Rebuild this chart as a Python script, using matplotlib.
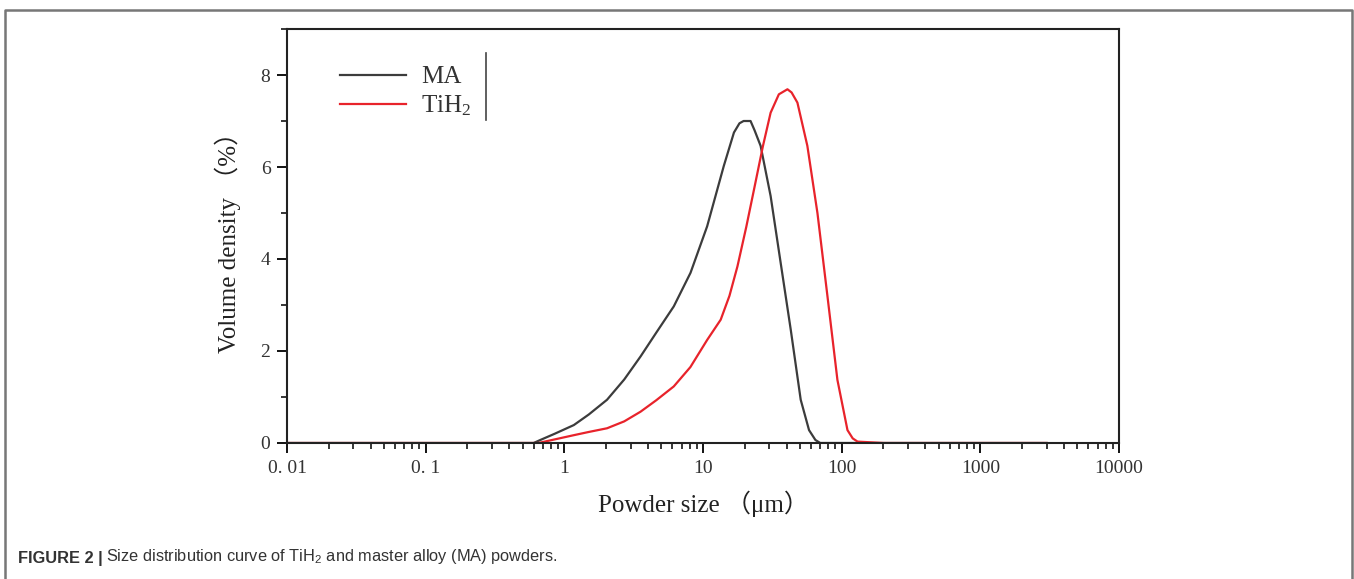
import matplotlib.pyplot as plt
from matplotlib.ticker import LogLocator, FixedLocator, MultipleLocator, FuncFormatter

# powder size (um) and volume density (%)
ma_size = [0.01, 0.1, 0.6, 0.67, 0.85, 1.17, 1.5, 2.03, 2.7, 3.54, 4.6, 6.15, 8.12, 10.7,
           14.1, 16.7, 18.3, 19.6, 22.0, 23.5, 26.0, 30.7, 36.3, 42.9, 50.6, 58.1, 64.6,
           70, 100, 1000, 3000]
ma_density = [0, 0, 0, 0.065, 0.2, 0.39, 0.62, 0.94, 1.38, 1.88, 2.4, 2.97, 3.7, 4.71,
              6.02, 6.75, 6.95, 7.0, 7.0, 6.8, 6.46, 5.37, 3.91, 2.46, 0.94, 0.28, 0.065,
              0, 0, 0, 0]

tih2_size = [0.01, 0.1, 0.65, 0.8, 1.17, 1.5, 2.03, 2.7, 3.54, 4.6, 6.15, 8.1, 10.7,
             13.4, 15.5, 17.7, 20.5, 23.3, 27.0, 30.7, 35.2, 40.6, 43.5, 47.9, 56.5, 66.8,
             78.9, 93.1, 110, 120, 130, 200, 1000, 3000]
tih2_density = [0, 0, 0, 0.06, 0.17, 0.24, 0.32, 0.47, 0.68, 0.93, 1.23, 1.65, 2.24,
                2.68, 3.2, 3.84, 4.7, 5.51, 6.45, 7.18, 7.58, 7.69, 7.62, 7.4, 6.46, 5.0,
                3.19, 1.37, 0.28, 0.1, 0.03, 0, 0, 0]

serif = ['Liberation Serif', 'Noto Sans CJK SC', 'DejaVu Sans']
cjk_serif = ['Liberation Serif', 'Noto Sans CJK SC']
sans = ['Liberation Sans', 'DejaVu Sans']

fig = plt.figure(figsize=(13.54, 5.79), dpi=100)
ax = fig.add_axes([0.212, 0.2349, 0.6145, 0.715])

ax.plot(ma_size, ma_density, color='#3c3c3c', lw=1.6, label='MA')
ax.plot(tih2_size, tih2_density, color='#e8232b', lw=1.6, label='TiH$\\mathregular{_2}$')

ax.set_xscale('log')
ax.set_xlim(0.01, 10000)
ax.set_ylim(0, 9)
ax.xaxis.set_major_locator(FixedLocator([0.01, 0.1, 1, 10, 100, 1000, 10000]))
ax.xaxis.set_minor_locator(LogLocator(base=10, subs=range(2, 10), numticks=20))
ax.xaxis.set_major_formatter(FuncFormatter(
    lambda v, p: {0.01: '0. 01', 0.1: '0. 1'}.get(round(v, 3), '%d' % round(v))))
ax.yaxis.set_major_locator(FixedLocator([0, 2, 4, 6, 8]))
ax.yaxis.set_minor_locator(MultipleLocator(1))

ax.tick_params(which='major', direction='out', length=7, width=1.3, labelsize=14, pad=5)
ax.tick_params(which='minor', direction='out', length=4, width=1.1)
for lab in ax.get_xticklabels() + ax.get_yticklabels():
    lab.set_family(serif)
    lab.set_color('#333333')
for sp in ax.spines.values():
    sp.set_linewidth(1.5)
    sp.set_color('#222222')

ax.set_xlabel('Powder size （μm）', fontsize=18, family=cjk_serif, color='#222222', labelpad=10)
ax.set_ylabel('Volume density （%）', fontsize=18, family=cjk_serif, color='#222222', labelpad=14)

leg = ax.legend(loc='upper left', bbox_to_anchor=(0.037, 0.965), frameon=False,
                prop={'family': 'Liberation Serif', 'size': 18}, handlelength=2.64,
                handletextpad=0.6, labelspacing=0.2)
for t in leg.get_texts():
    t.set_color('#333333')
ax.plot([0.239, 0.239], [0.78, 0.942], transform=ax.transAxes, color='#444444', lw=1.2)

# outer frame of the figure panel
fig.add_artist(plt.Line2D([0.0037, 0.0037, 0.9985, 0.9985], [0.0, 0.983, 0.983, 0.0],
                          transform=fig.transFigure, color='#777777', lw=1.8))

cap = fig.text(0.0133, 0.027, 'FIGURE 2 |', fontsize=11.8, weight='bold', color='#333333',
               family=sans)
ax.annotate('Size distribution curve of TiH$\\mathregular{_2}$ and master alloy (MA) powders.',
            xy=(1, 0), xycoords=cap, xytext=(2.5, 0), textcoords='offset points',
            ha='left', va='bottom', fontsize=11.8, color='#333333', family=sans,
            annotation_clip=False)

fig.savefig('out.png', dpi=100)
